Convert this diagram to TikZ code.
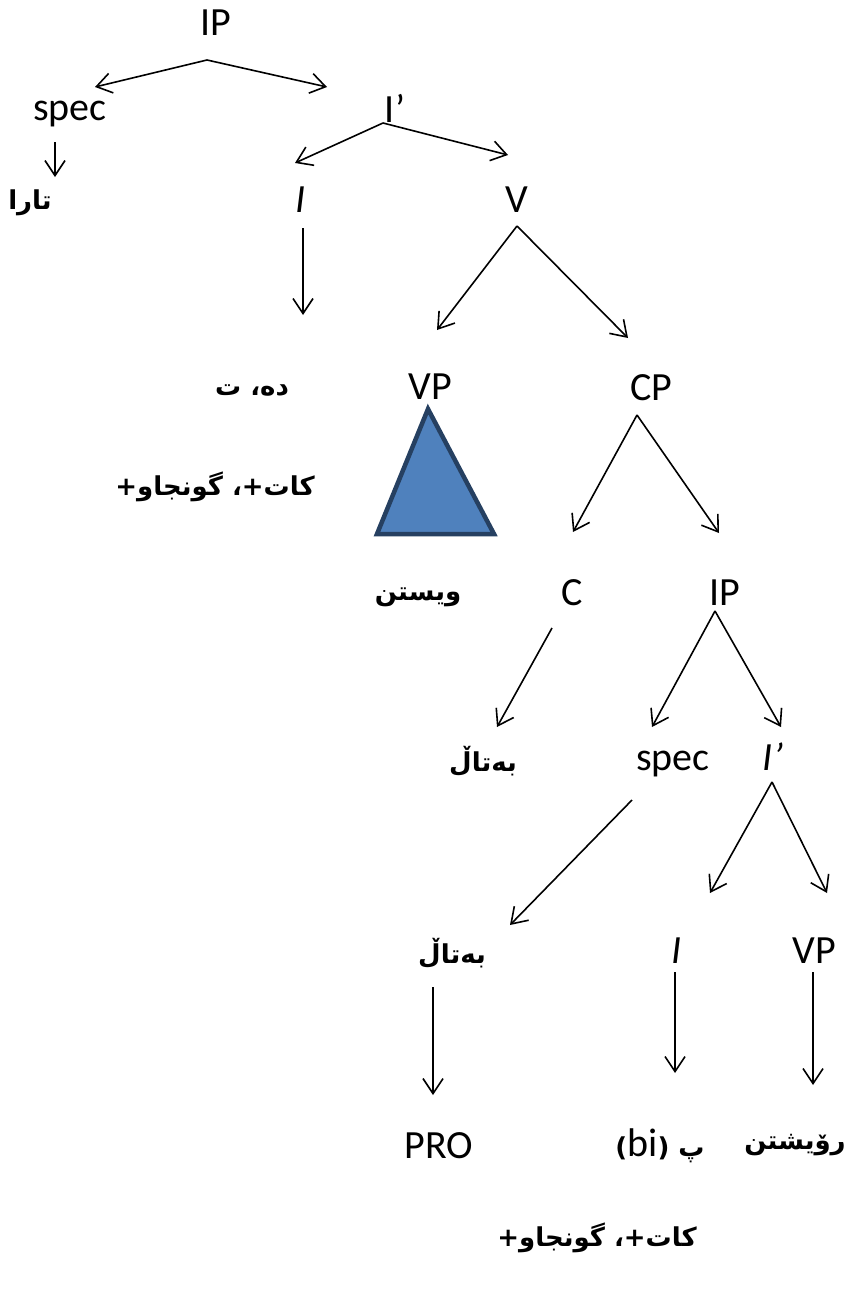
\documentclass[tikz,border=0pt]{standalone}
\usepackage{fontspec}
\setmainfont{Carlito}
\newfontfamily\kurdfont[Script=Arabic]{DejaVu Sans}
\newfontfamily\parenfont{DejaVu Sans}
\TeXXeTstate=1
\usepackage{xcolor}
\usetikzlibrary{arrows.meta}
\definecolor{trifill}{RGB}{79,129,189}
\definecolor{triline}{RGB}{38,64,97}

\begin{document}
\begin{tikzpicture}[x=1pt, y=-1pt, line width=1.6pt, >={Straight Barb[length=15pt, width=20pt]}]
				\tikzstyle{cat} = [draw=none, inner sep=0pt, anchor=base, font=\fontsize{40}{48}\selectfont]
				\tikzstyle{kurd} = [draw=none, inner sep=0pt, font=\kurdfont\bfseries\fontsize{26}{32}\selectfont]
				\tikzstyle{tri} = [fill=trifill, draw=triline, line width=4.5pt, line join=miter]

				\useasboundingbox (0,0) rectangle (852,1290);

				\node[cat]		at (216, 36)		(ip0)		{IP};
				\node[cat]		at (70, 120)		(spec0)		{spec};
				\node[cat]		at (395, 122)		(ibar0)		{I’};
				\node[kurd]		at (30, 203)		(tara)		{\beginR تارا\endR};
				\node[cat]		at (301, 212)		(i0)		{\textit{I}};
				\node[cat]		at (517, 212)		(v0)		{V};
				\node[kurd]		at (252, 390)		(de)		{\beginR ده، ت\endR};
				\node[cat]		at (430, 399)		(vp0)		{VP};
				\node[cat]		at (651, 400)		(cp0)		{CP};
				\node[kurd]		at (215, 487)		(tense0)	{\beginR کات+، گونجاو+\endR};
				\node[kurd]		at (418, 597)		(wistin)	{\beginR ویستن\endR};
				\node[cat]		at (572, 605)		(c0)		{C};
				\node[cat]		at (725, 605)		(ip1)		{IP};
				\node[kurd]		at (483, 761)		(batal0)	{\beginR بەتاڵ\endR};
				\node[cat]		at (673, 770)		(spec1)		{spec};
				\node[cat]		at (773, 770)		(ibar1)		{\textit{I’}};
				\node[kurd]		at (452, 953)		(batal1)	{\beginR بەتاڵ\endR};
				\node[cat]		at (677, 963)		(i1)		{\textit{I}};
				\node[cat]		at (814, 963)		(vp1)		{VP};
				\node[cat]		at (439, 1158)		(pro)		{PRO};
				\node[kurd]		at (660, 1146)		(bi)		{\beginR پ \beginL{\parenfont(}{\normalfont\fontsize{40}{48}\selectfont bi}{\parenfont)}\endL\endR};
				\node[kurd]		at (795, 1145)		(royshtin)	{\beginR رۆیشتن\endR};
				\node[kurd]		at (597, 1238)		(tense1)	{\beginR کات+، گونجاو+\endR};

				% VP triangle
				\draw[tri] (428, 409) -- (494, 534) -- (377, 534) -- cycle;

				% forks and arrow ends
				\coordinate (ip0 fork)		at (207, 60);
				\coordinate (spec0 top)		at (55, 142);
				\coordinate (ibar0 fork)	at (383, 123);
				\coordinate (i0 top)		at (303, 228);
				\coordinate (v0 fork)		at (517, 226);
				\coordinate (cp0 fork)		at (637, 415);
				\coordinate (c0 top)		at (552, 628);
				\coordinate (ip1 fork)		at (715, 611);
				\coordinate (spec1 top)		at (632, 800);
				\coordinate (ibar1 fork)	at (772, 782);
				\coordinate (batal1 top)	at (433, 987);
				\coordinate (i1 top)		at (675, 972);
				\coordinate (vp1 top)		at (813, 972);

				\coordinate (spec0 in)		at (95, 87);
				\coordinate (ibar0 in)		at (327, 87);
				\coordinate (tara in)		at (55, 177);
				\coordinate (i0 in)			at (295, 163);
				\coordinate (v0 in)			at (508, 155);
				\coordinate (de in)			at (303, 315);
				\coordinate (vp0 in)		at (437, 330);
				\coordinate (cp0 in)		at (628, 338);
				\coordinate (c0 in)			at (573, 532);
				\coordinate (ip1 in)		at (719, 533);
				\coordinate (batal0 in)		at (497, 727);
				\coordinate (spec1 in)		at (652, 727);
				\coordinate (ibar1 in)		at (781, 727);
				\coordinate (batal1 in)		at (510, 925);
				\coordinate (i1 in)			at (710, 893);
				\coordinate (vp1 in)		at (827, 893);
				\coordinate (pro in)		at (433, 1095);
				\coordinate (bi in)			at (675, 1073);
				\coordinate (royshtin in)	at (813, 1085);

				\path[->]
				(ip0 fork)		edge	(spec0 in)
				(ip0 fork)		edge	(ibar0 in)
				(spec0 top)		edge	(tara in)
				(ibar0 fork)	edge	(i0 in)
				(ibar0 fork)	edge	(v0 in)
				(i0 top)		edge	(de in)
				(v0 fork)		edge	(vp0 in)
				(v0 fork)		edge	(cp0 in)
				(cp0 fork)		edge	(c0 in)
				(cp0 fork)		edge	(ip1 in)
				(c0 top)		edge	(batal0 in)
				(ip1 fork)		edge	(spec1 in)
				(ip1 fork)		edge	(ibar1 in)
				(spec1 top)		edge	(batal1 in)
				(ibar1 fork)	edge	(i1 in)
				(ibar1 fork)	edge	(vp1 in)
				(batal1 top)	edge	(pro in)
				(i1 top)		edge	(bi in)
				(vp1 top)		edge	(royshtin in);
			\end{tikzpicture}
\end{document}
